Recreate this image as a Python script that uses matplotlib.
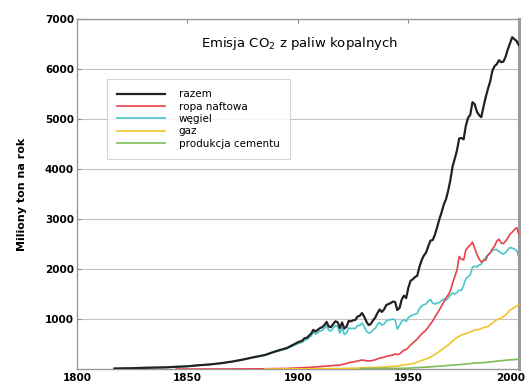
import matplotlib
matplotlib.use('Agg')
import matplotlib.pyplot as plt
import matplotlib.transforms as mtransforms
import numpy as np

# dane (miliony ton wegla na rok)
years = [1817, 1825, 1830, 1835, 1840, 1845, 1850, 1855, 1860, 1865,
         1870, 1875, 1880, 1885, 1890, 1895] + list(range(1900, 2001))

total = [10, 16, 24, 29, 33, 45, 54, 75, 91, 115,
         147, 188, 236, 280, 356, 420,
         534, 552, 566, 617, 624, 663, 707, 784, 750, 785,      # 1900-1909
         819, 836, 879, 943, 850, 838, 901, 955, 936, 820,      # 1910-1919
         932, 810, 845, 960, 955, 975, 983, 1050, 1065, 1120,   # 1920-1929
         1050, 950, 880, 900, 973, 1027, 1120, 1190, 1142, 1192,  # 1930-1939
         1280, 1300, 1320, 1350, 1340, 1180, 1220, 1392, 1469, 1419,  # 1940-1949
         1630, 1767, 1795, 1841, 1865, 2042, 2177, 2270, 2330, 2454,  # 1950-1959
         2569, 2580, 2686, 2833, 2995, 3130, 3288, 3393, 3566, 3780,  # 1960-1969
         4053, 4208, 4376, 4614, 4623, 4596, 4864, 5026, 5087, 5340,  # 1970-1979
         5300, 5152, 5080, 5040, 5250, 5439, 5607, 5752, 5965, 6060,  # 1980-1989
         6100, 6180, 6140, 6150, 6250, 6398, 6520, 6640, 6600, 6560,  # 1990-1999
         6480]

coal = [10, 16, 24, 29, 33, 45, 54, 75, 91, 115,
        146, 186, 233, 275, 347, 408,
        507, 524, 535, 582, 587, 623, 662, 735, 698, 730,
        760, 772, 810, 870, 775, 760, 820, 870, 850, 720,
        830, 690, 720, 820, 810, 815, 810, 870, 870, 920,
        850, 760, 720, 730, 780, 815, 890, 930, 880, 900,
        960, 980, 990, 1000, 980, 800, 870, 960, 990, 950,
        1030, 1060, 1080, 1100, 1110, 1210, 1260, 1290, 1300, 1360,
        1390, 1320, 1300, 1320, 1330, 1370, 1400, 1380, 1420, 1480,
        1520, 1500, 1530, 1580, 1570, 1680, 1800, 1850, 1880, 2040,
        2060, 2040, 2080, 2100, 2180, 2240, 2280, 2330, 2370, 2390,
        2390, 2350, 2320, 2300, 2330, 2390, 2430, 2420, 2400, 2370,
        2240]

oil = [None, None, None, None, None, 0, 0, 0, 0, 0,
       1, 2, 3, 5, 9, 12,
       23, 24, 26, 28, 30, 32, 35, 38, 42, 45,
       48, 52, 56, 60, 62, 65, 70, 75, 75, 78,
       90, 100, 110, 125, 135, 140, 150, 160, 170, 180,
       175, 165, 160, 165, 175, 185, 200, 220, 225, 235,
       250, 265, 270, 280, 300, 290, 300, 340, 380, 390,
       430, 480, 520, 560, 600, 650, 700, 740, 780, 840,
       900, 960, 1040, 1110, 1180, 1260, 1340, 1420, 1480, 1560,
       1720, 1850, 1980, 2250, 2200, 2180, 2380, 2440, 2480, 2540,
       2420, 2300, 2200, 2140, 2170, 2180, 2280, 2320, 2400, 2460,
       2560, 2600, 2520, 2510, 2560, 2620, 2700, 2740, 2790, 2830,
       2700]

gas_years = [1885, 1890, 1895, 1900, 1905, 1910, 1915, 1920, 1925, 1930,
             1935, 1940, 1945, 1950, 1952, 1954, 1956, 1958, 1960, 1962,
             1964, 1966, 1968, 1970, 1972, 1974, 1976, 1978, 1980, 1982,
             1984, 1986, 1988, 1990, 1992, 1994, 1996, 1998, 2000]
gas = [0, 1, 2, 3, 4, 6, 8, 10, 15, 25,
       30, 40, 60, 95, 110, 135, 170, 200, 240, 290,
       350, 420, 480, 560, 630, 680, 710, 740, 780, 790,
       830, 850, 920, 990, 1020, 1080, 1180, 1230, 1290]

cement_years = [1928, 1930, 1935, 1940, 1945, 1950, 1955, 1960, 1965, 1970,
                1975, 1980, 1985, 1990, 1995, 2000]
cement = [10, 10, 11, 15, 12, 18, 30, 43, 60, 78,
          95, 120, 130, 157, 180, 195]

labels = ['razem', 'ropa naftowa', 'węgiel', 'gaz', 'produkcja cementu']
colors = ['#222222', '#e8414b', '#4cc5ca', '#f2c42c', '#7dbb55']

plt.rcParams['font.family'] = ['DejaVu Sans']

fig = plt.figure(figsize=(5.3, 3.84), dpi=100)
ax = fig.add_axes([0.145, 0.039, 0.834, 0.911])

oil_arr = np.array([np.nan if v is None else v for v in oil], dtype=float)

ax.plot(years, total, color=colors[0], lw=1.6, label=labels[0], zorder=3)
ax.plot(years, oil_arr, color=colors[1], lw=1.2, label=labels[1], zorder=4)
ax.plot(years, coal, color=colors[2], lw=1.2, label=labels[2], zorder=2)
ax.plot(gas_years, gas, color=colors[3], lw=1.2, label=labels[3], zorder=4)
ax.plot(cement_years, cement, color=colors[4], lw=1.2, label=labels[4], zorder=5)

ax.set_xlim(1800, 2000)
ax.set_ylim(0, 7000)
ax.set_xticks([1800, 1850, 1900, 1950, 2000])
ax.set_yticks([1000, 2000, 3000, 4000, 5000, 6000, 7000])

ax.yaxis.grid(True, color='#c4c4c4', lw=0.8)
ax.set_axisbelow(True)

for s in ['left', 'bottom', 'top']:
    ax.spines[s].set_color('#999999')
    ax.spines[s].set_linewidth(1.0)
ax.spines['right'].set_color('#9a9a9a')
ax.spines['right'].set_linewidth(2.2)

ax.tick_params(axis='both', direction='in', length=3, color='#888888',
               labelsize=7.5, pad=2)
ax.tick_params(axis='x', top=True, bottom=False, pad=3)
for t in ax.get_xticklabels() + ax.get_yticklabels():
    t.set_fontweight('bold')

# ostatnia etykieta lekko w lewo, zeby sie miescila
last = ax.get_xticklabels()[-1]
last.set_transform(last.get_transform() + mtransforms.ScaledTranslation(-6 / 72, 0, fig.dpi_scale_trans))

ax.set_ylabel('Miliony ton na rok', fontsize=8, fontweight='bold', labelpad=13)

ax.text(0.505, 0.93, 'Emisja CO$_2$ z paliw kopalnych', transform=ax.transAxes,
        ha='center', va='center', fontsize=9.5)

leg = ax.legend(loc='upper left', bbox_to_anchor=(0.068, 0.829), borderaxespad=0,
                fontsize=7.5, handlelength=4.6, handletextpad=1.3, labelspacing=0.22,
                borderpad=1.0, fancybox=False, frameon=True)
leg.get_frame().set_edgecolor('#cccccc')
leg.get_frame().set_linewidth(0.8)

fig.savefig('out.png', dpi=100)
